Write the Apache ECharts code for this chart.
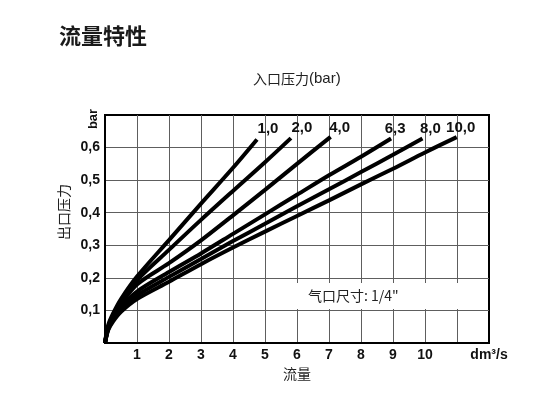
<!DOCTYPE html>
<html>
<head>
<meta charset="utf-8">
<script src="https://cdn.jsdelivr.net/npm/echarts@6/dist/echarts.min.js"></script>
<style>
  html, body { margin: 0; padding: 0; background: #fff; }
  #chart { width: 550px; height: 403px; }
</style>
</head>
<body>
<div id="chart"></div>
<script>
// inlet pressure curves: [flow dm3/s, outlet pressure bar]
const inletNames = ['1,0', '2,0', '4,0', '6,3', '8,0', '10,0']
const curve1 = [[0, 0], [0.1, 0.055], [0.25, 0.09], [0.5, 0.135], [1, 0.204], [2, 0.316], [3, 0.428], [4, 0.538], [4.75, 0.625]]
const curve2 = [[0, 0], [0.1, 0.05], [0.25, 0.085], [0.5, 0.128], [1, 0.193], [2, 0.286], [3, 0.378], [4, 0.467], [5, 0.555], [5.81, 0.629]]
const curve4 = [[0, 0], [0.1, 0.048], [0.25, 0.08], [0.5, 0.12], [1, 0.18], [2, 0.245], [3, 0.315], [4, 0.392], [5, 0.47], [6, 0.55], [7.05, 0.633]]
const curve63 = [[0, 0], [0.1, 0.045], [0.25, 0.075], [0.5, 0.11], [1, 0.158], [2, 0.218], [3, 0.275], [4, 0.335], [5, 0.395], [6, 0.455], [7, 0.515], [8, 0.572], [8.94, 0.628]]
const curve8 = [[0, 0], [0.1, 0.042], [0.25, 0.07], [0.5, 0.103], [1, 0.146], [2, 0.203], [3, 0.258], [4, 0.313], [5, 0.366], [6, 0.42], [7, 0.472], [8, 0.525], [9, 0.578], [9.92, 0.628]]
const curve10 = [[0, 0], [0.1, 0.04], [0.25, 0.066], [0.5, 0.096], [1, 0.135], [2, 0.188], [3, 0.242], [4, 0.293], [5, 0.342], [6, 0.39], [7, 0.438], [8, 0.487], [9, 0.535], [10, 0.585], [10.99, 0.632]]
const curves = [curve1, curve2, curve4, curve63, curve8, curve10]

const xTickLabels = ['1', '2', '3', '4', '5', '6', '7', '8', '9', '10']
const yTickLabels = ['0,1', '0,2', '0,3', '0,4', '0,5', '0,6']

// small nudges for the curve name labels above each line end
const labelOffsets = [[11, -11], [11, -10], [9, -9], [4, -10], [8, -10], [4, -9]]

const latin = '"Liberation Sans", Arial, sans-serif'
const cjk = '"Noto Sans CJK SC", sans-serif'

const chart = echarts.init(document.getElementById('chart'))

const series = curves.map((data, i) => ({
  name: inletNames[i],
  type: 'line',
  smooth: 0.3,
  showSymbol: false,
  animation: false,
  lineStyle: { color: '#000', width: 4 },
  data,
  markPoint: {
    symbol: 'circle',
    symbolSize: 1,
    itemStyle: { color: 'rgba(0,0,0,0)' },
    label: {
      show: true,
      position: 'inside',
      formatter: inletNames[i],
      offset: labelOffsets[i],
      color: '#111',
      fontFamily: latin,
      fontWeight: 'bold',
      fontSize: 15,
    },
    data: [{ coord: data[data.length - 1] }],
  },
}))

chart.setOption({
  animation: false,
  backgroundColor: '#fff',
  title: {
    text: '流量特性',
    left: 54,
    top: 20,
    textStyle: { fontFamily: cjk, fontSize: 22, fontWeight: 'bold', color: '#1a1a1a' },
  },
  grid: {
    left: 105,
    right: 61,
    top: 115,
    bottom: 60,
    show: true,
    borderColor: '#000',
    borderWidth: 2,
  },
  xAxis: {
    type: 'value',
    min: 0,
    max: 12,
    interval: 1,
    name: '流量',
    nameLocation: 'middle',
    nameGap: 24,
    nameTextStyle: { fontFamily: cjk, fontSize: 14, color: '#222' },
    axisLine: { lineStyle: { color: '#000', width: 2 } },
    axisTick: { show: false },
    axisLabel: {
      margin: 5,
      showMinLabel: true,
      showMaxLabel: true,
      fontFamily: latin,
      fontWeight: 'bold',
      fontSize: 14,
      color: '#111',
      formatter: (v) => {
        if (v === 12) return 'dm³/s'
        return xTickLabels[v - 1] || ''
      },
    },
    splitLine: { show: true, showMinLine: false, showMaxLine: false, lineStyle: { color: '#5e5e5e', width: 1 } },
  },
  yAxis: {
    type: 'value',
    min: 0,
    max: 0.7,
    interval: 0.1,
    axisLine: { show: true, lineStyle: { color: '#000', width: 2 } },
    axisTick: { show: false },
    axisLabel: {
      margin: 5,
      fontFamily: latin,
      fontWeight: 'bold',
      fontSize: 14,
      color: '#111',
      formatter: (v) => yTickLabels[Math.round(v * 10) - 1] || '',
    },
    splitLine: { show: true, showMinLine: false, showMaxLine: false, lineStyle: { color: '#5e5e5e', width: 1 } },
  },
  graphic: [
    {
      type: 'rect',
      shape: { x: 291, y: 283, width: 171, height: 26 },
      style: { fill: '#fff' },
      z: 5,
    },
    {
      type: 'text',
      x: 308, y: 296,
      style: { text: '气口尺寸: 1/4"', font: '14px ' + cjk, fill: '#222', verticalAlign: 'middle' },
      z: 6,
    },
    {
      type: 'text',
      x: 253, y: 79,
      style: {
        text: '{c|入口压力}{l|(bar)}',
        fill: '#222',
        verticalAlign: 'middle',
        rich: {
          c: { fontFamily: cjk, fontSize: 14, color: '#222' },
          l: { fontFamily: latin, fontSize: 15, color: '#222' },
        },
      },
    },
    {
      type: 'text',
      x: 64, y: 212,
      rotation: Math.PI / 2,
      style: { text: '出口压力', font: '14px ' + cjk, fill: '#222', align: 'center', verticalAlign: 'middle' },
    },
    {
      type: 'text',
      x: 93, y: 119,
      rotation: Math.PI / 2,
      style: { text: 'bar', font: 'bold 13px ' + latin, fill: '#111', align: 'center', verticalAlign: 'middle' },
    },
  ],
  series,
})
</script>
</body>
</html>
